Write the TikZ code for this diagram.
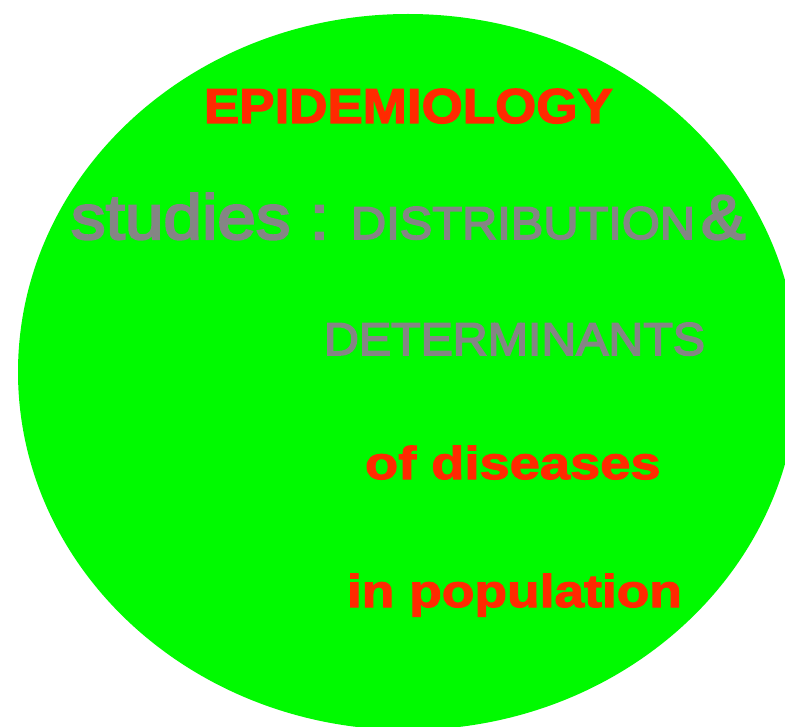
\documentclass[tikz,border=0pt]{standalone}
\usepackage{fontspec}
\setmainfont{Liberation Sans}
\newfontfamily\redfont[FakeBold=2.5]{Liberation Sans Bold}
\newfontfamily\grayfont[FakeBold=3.5]{Liberation Sans}
\definecolor{bggreen}{HTML}{00FA00}
\definecolor{txtred}{HTML}{FF2A00}
\definecolor{txtgray}{HTML}{858585}
\begin{document}
\begin{tikzpicture}[x=1pt,y=-1pt,
  lbl/.style={anchor=base west,inner sep=0pt,outer sep=0pt},
  redtxt/.style={lbl,text=txtred},
  graytxt/.style={lbl,text=txtgray}]
\clip (0,0) rectangle (785,727);
\fill[white] (0,0) rectangle (785,727);
\fill[bggreen] (408,372) ellipse [x radius=390, y radius=358];
\node[redtxt,font=\redfont\addfontfeatures{FakeStretch=1.08}\fontsize{49}{49}\selectfont] (title) at (204,123) {EPIDEMIOLOGY};
\node[graytxt,font=\grayfont\addfontfeatures{FakeStretch=1.1}\fontsize{63}{63}\selectfont] (studies) at (71,239) {studies :};
\node[graytxt,font=\grayfont\addfontfeatures{FakeStretch=1.06}\fontsize{46}{46}\selectfont] (distr) at (351,239) {DISTRIBUTION};
\node[graytxt,font=\grayfont\addfontfeatures{FakeStretch=1.06}\fontsize{63}{63}\selectfont] (amp) at (701,239) {\&};
\node[graytxt,font=\grayfont\addfontfeatures{FakeStretch=1.05}\fontsize{46}{46}\selectfont] (determ) at (324,355) {DETERMINANTS};
\node[redtxt,font=\redfont\addfontfeatures{FakeStretch=1.18}\fontsize{46}{46}\selectfont] (dis) at (365,479) {of diseases};
\node[redtxt,font=\redfont\addfontfeatures{FakeStretch=1.16}\fontsize{46}{46}\selectfont] (pop) at (347,607) {in population};
\end{tikzpicture}
\end{document}
